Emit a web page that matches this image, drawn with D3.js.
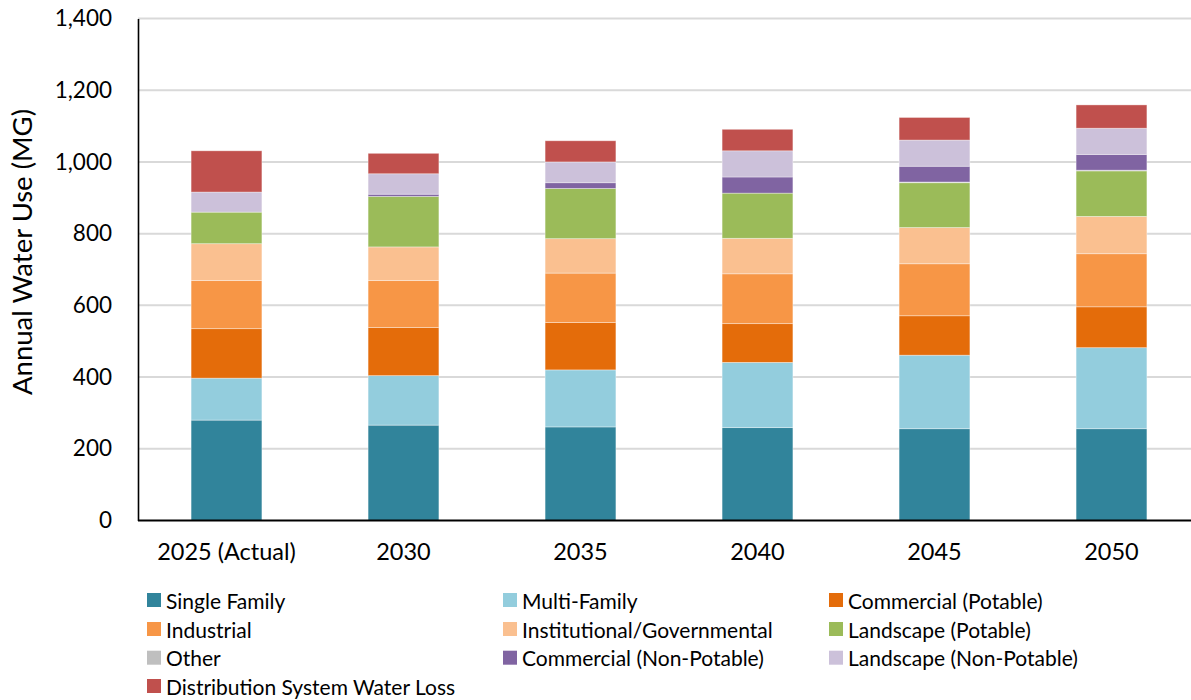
<!DOCTYPE html>
<html>
<head>
<meta charset="utf-8">
<script src="https://cdn.jsdelivr.net/npm/d3@7"></script>
<style>
  html, body { margin: 0; padding: 0; background: #fff; }
  svg { display: block; font-family: Lato, "Open Sans", sans-serif; }
</style>
</head>
<body>
<svg id="chart" width="1191" height="700"></svg>
<script>
// Projected annual water use by customer category (million gallons)
const years = ["2025 (Actual)", "2030", "2035", "2040", "2045", "2050"];
const seriesNames = [
  "Single Family", "Multi-Family", "Commercial (Potable)",
  "Industrial", "Institutional/Governmental", "Landscape (Potable)",
  "Other", "Commercial (Non-Potable)", "Landscape (Non-Potable)",
  "Distribution System Water Loss"
];
const singleFamily      = [280, 266, 261, 259, 256, 256];
const multiFamily       = [117, 138, 159, 182, 205, 226];
const commercialPotable = [138, 134, 132, 108, 110, 114];
const industrial        = [134, 131, 138, 139, 145, 148];
const institutional     = [103,  94,  96,  99, 101, 104];
const landscapePotable  = [ 88, 141, 140, 126, 125, 127];
const other             = [  0,   0,   0,   0,   2,   2];
const commercialNonPot  = [  0,   6,  16,  45,  44,  44];
const landscapeNonPot   = [ 56,  57,  58,  73,  73,  73];
const waterLoss         = [115,  57,  59,  60,  63,  65];
const yTicks = [0, 200, 400, 600, 800, 1000, 1200, 1400];
const colors = ["#31849B", "#93CDDD", "#E46C0A", "#F79646", "#FAC090",
                "#9BBB59", "#BFBFBF", "#8064A2", "#CCC1DA", "#C0504D"];

const seriesValues = [singleFamily, multiFamily, commercialPotable, industrial,
  institutional, landscapePotable, other, commercialNonPot, landscapeNonPot, waterLoss];

// Build a row per year for d3.stack
const rows = years.map((yr, i) => {
  const r = { year: yr };
  seriesNames.forEach((s, k) => { r[s] = seriesValues[k][i]; });
  return r;
});

const svg = d3.select("#chart");
const plotLeft = 138, plotRight = 1200, plotTop = 18.5, plotBottom = 520.5;

const x = d3.scaleBand().domain(years).range([plotLeft, plotRight])
  .paddingInner(0.6).paddingOuter(0.3);
const y = d3.scaleLinear().domain([0, 1400]).range([plotBottom, plotTop]);
const color = d3.scaleOrdinal().domain(seriesNames).range(colors);

// Horizontal gridlines
svg.append("g").selectAll("line").data(yTicks.filter(d => d > 0)).join("line")
  .attr("x1", plotLeft).attr("x2", 1191)
  .attr("y1", d => y(d)).attr("y2", d => y(d))
  .attr("stroke", "#D9D9D9").attr("stroke-width", 2);

// Stacked bars
const stacked = d3.stack().keys(seriesNames)(rows);
svg.append("g").selectAll("g").data(stacked).join("g")
  .attr("fill", d => color(d.key))
  .selectAll("rect").data(d => d.filter(p => p[1] - p[0] > 0)).join("rect")
  .attr("x", d => x(d.data.year))
  .attr("width", x.bandwidth())
  .attr("y", d => y(d[1]))
  .attr("height", d => y(d[0]) - y(d[1]))
  .attr("stroke", "rgba(255,255,255,0.45)")
  .attr("stroke-width", 0.8);

// Y axis
const yAxis = svg.append("g").attr("transform", `translate(${plotLeft},0)`)
  .call(d3.axisLeft(y).tickValues(yTicks).tickSize(0).tickPadding(26)
    .tickFormat(d3.format(",")));
yAxis.select(".domain").attr("stroke", "#000").attr("stroke-width", 1.6);
yAxis.selectAll("text").attr("font-size", 22.5).attr("fill", "#000")
  .attr("font-family", "Lato, sans-serif");

// X axis
const xAxis = svg.append("g").attr("transform", `translate(0,${plotBottom})`)
  .call(d3.axisBottom(x).tickSize(0).tickPadding(23));
xAxis.select(".domain").attr("stroke", "#000").attr("stroke-width", 2)
  .attr("d", `M${plotLeft},0H1191`);
xAxis.selectAll("text").attr("font-size", 23.5).attr("fill", "#000")
  .attr("font-family", "Lato, sans-serif");

// Y axis title
svg.append("text")
  .attr("transform", "translate(21,252) rotate(-90)")
  .attr("text-anchor", "middle").attr("dominant-baseline", "central")
  .attr("font-size", 27.5).attr("fill", "#000")
  .text("Annual Water Use (MG)");

// Legend: three columns, filled row by row
const colX = [147, 503, 829];
const rowY = [600, 629, 657.7, 686];
const legend = svg.append("g").selectAll("g").data(seriesNames).join("g")
  .attr("transform", (d, i) => `translate(${colX[i % 3]},${rowY[Math.floor(i / 3)]})`);
legend.append("rect").attr("x", 0).attr("y", -7).attr("width", 14).attr("height", 14)
  .attr("fill", d => color(d));
legend.append("text").attr("x", 19).attr("y", 0)
  .attr("dominant-baseline", "central")
  .attr("font-size", 21).attr("fill", "#000")
  .text(d => d);
</script>
</body>
</html>
